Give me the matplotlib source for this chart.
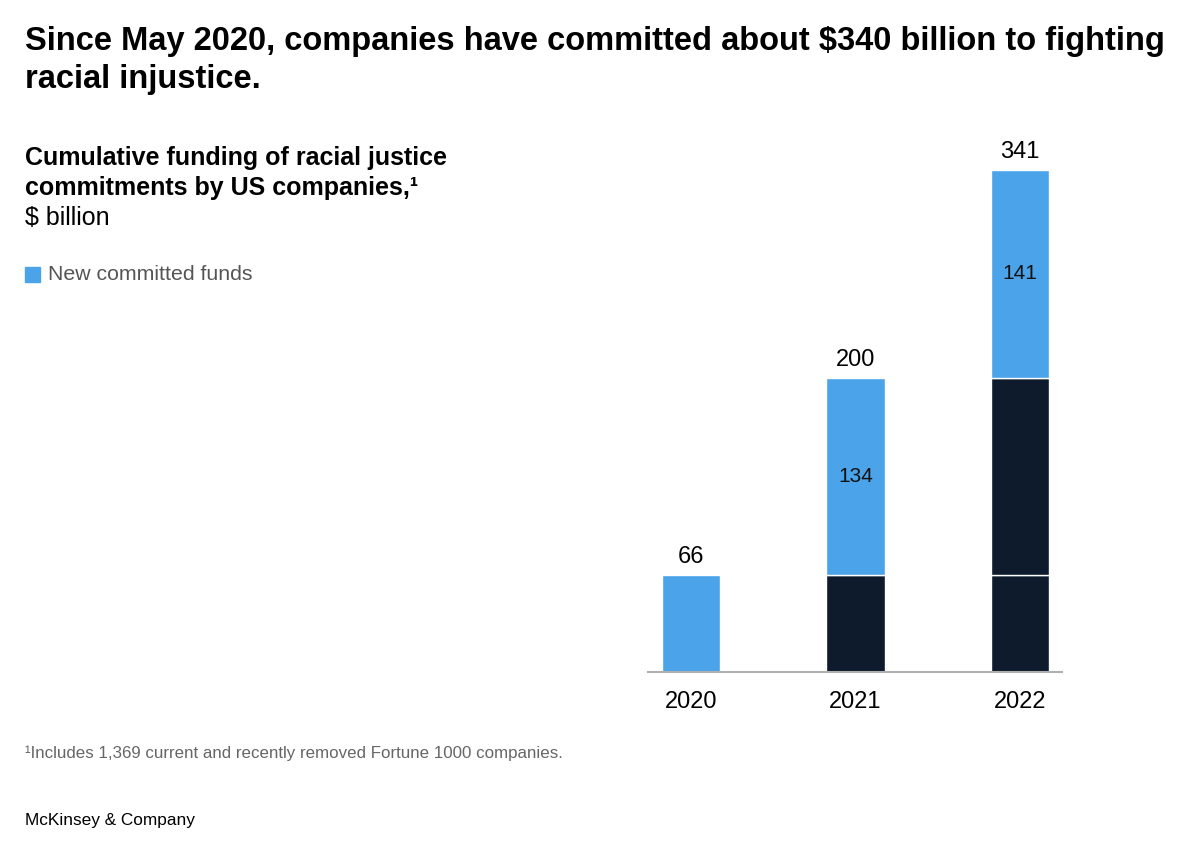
import matplotlib.pyplot as plt

years = ['2020', '2021', '2022']
new_funds = [66, 134, 141]

BLUE = '#4BA3EA'
NAVY = '#0D1B2C'
plt.rcParams['font.family'] = ['Liberation Sans', 'DejaVu Sans']

fig = plt.figure(figsize=(12, 8.51), dpi=100)
ax = fig.add_axes([648 / 1200, 1 - 672 / 851, 414 / 1200, 542 / 851])

for i, year in enumerate(years):
    bottom = 0
    for j in range(i + 1):
        color = BLUE if j == i else NAVY
        ax.bar(i, new_funds[j], bottom=bottom, width=0.353, color=color,
               edgecolor='white', linewidth=1)
        if j == i and i > 0:
            ax.text(i, bottom + new_funds[j] / 2, str(new_funds[j]),
                    ha='center', va='center', fontsize=15, color='#111111')
        bottom += new_funds[j]
    ax.text(i, bottom + 12, str(bottom), ha='center', va='center',
            fontsize=17, color='black')

ax.set_xlim(-0.261, 2.255)
ax.set_ylim(0, 368.2)
ax.set_xticks(range(len(years)))
ax.set_xticklabels(years, fontsize=17)
ax.tick_params(axis='x', length=0, pad=14)
ax.set_yticks([])
for s in ['top', 'right', 'left']:
    ax.spines[s].set_visible(False)
ax.spines['bottom'].set_color('#b0b0b0')
ax.spines['bottom'].set_linewidth(1.5)


def px(y):
    return 1 - y / 851


fig.text(25 / 1200, px(50),
         'Since May 2020, companies have committed about $340 billion to fighting',
         fontsize=23.5, fontweight='bold', va='baseline', ha='left')
fig.text(25 / 1200, px(88), 'racial injustice.',
         fontsize=23.5, fontweight='bold', va='baseline', ha='left')
fig.text(25 / 1200, px(165), 'Cumulative funding of racial justice',
         fontsize=18, fontweight='bold', va='baseline', ha='left')
fig.text(25 / 1200, px(195), 'commitments by US companies,\u00b9',
         fontsize=18, fontweight='bold', va='baseline', ha='left')
fig.text(25 / 1200, px(225), '$ billion', fontsize=18, va='baseline', ha='left')

fig.patches.append(plt.Rectangle((25 / 1200, px(282)), 15 / 1200, 15 / 851,
                                 transform=fig.transFigure, color=BLUE))
fig.text(48 / 1200, px(275), 'New committed funds', fontsize=15.3,
         color='#555555', va='center', ha='left')

fig.text(25 / 1200, px(753),
         '\u00b9Includes 1,369 current and recently removed Fortune 1000 companies.',
         fontsize=12.2, color='#666666', va='center', ha='left')
fig.text(25 / 1200, px(821), 'McKinsey & Company', fontsize=12.4,
         color='black', va='center', ha='left')

fig.savefig('out.png', dpi=100)
